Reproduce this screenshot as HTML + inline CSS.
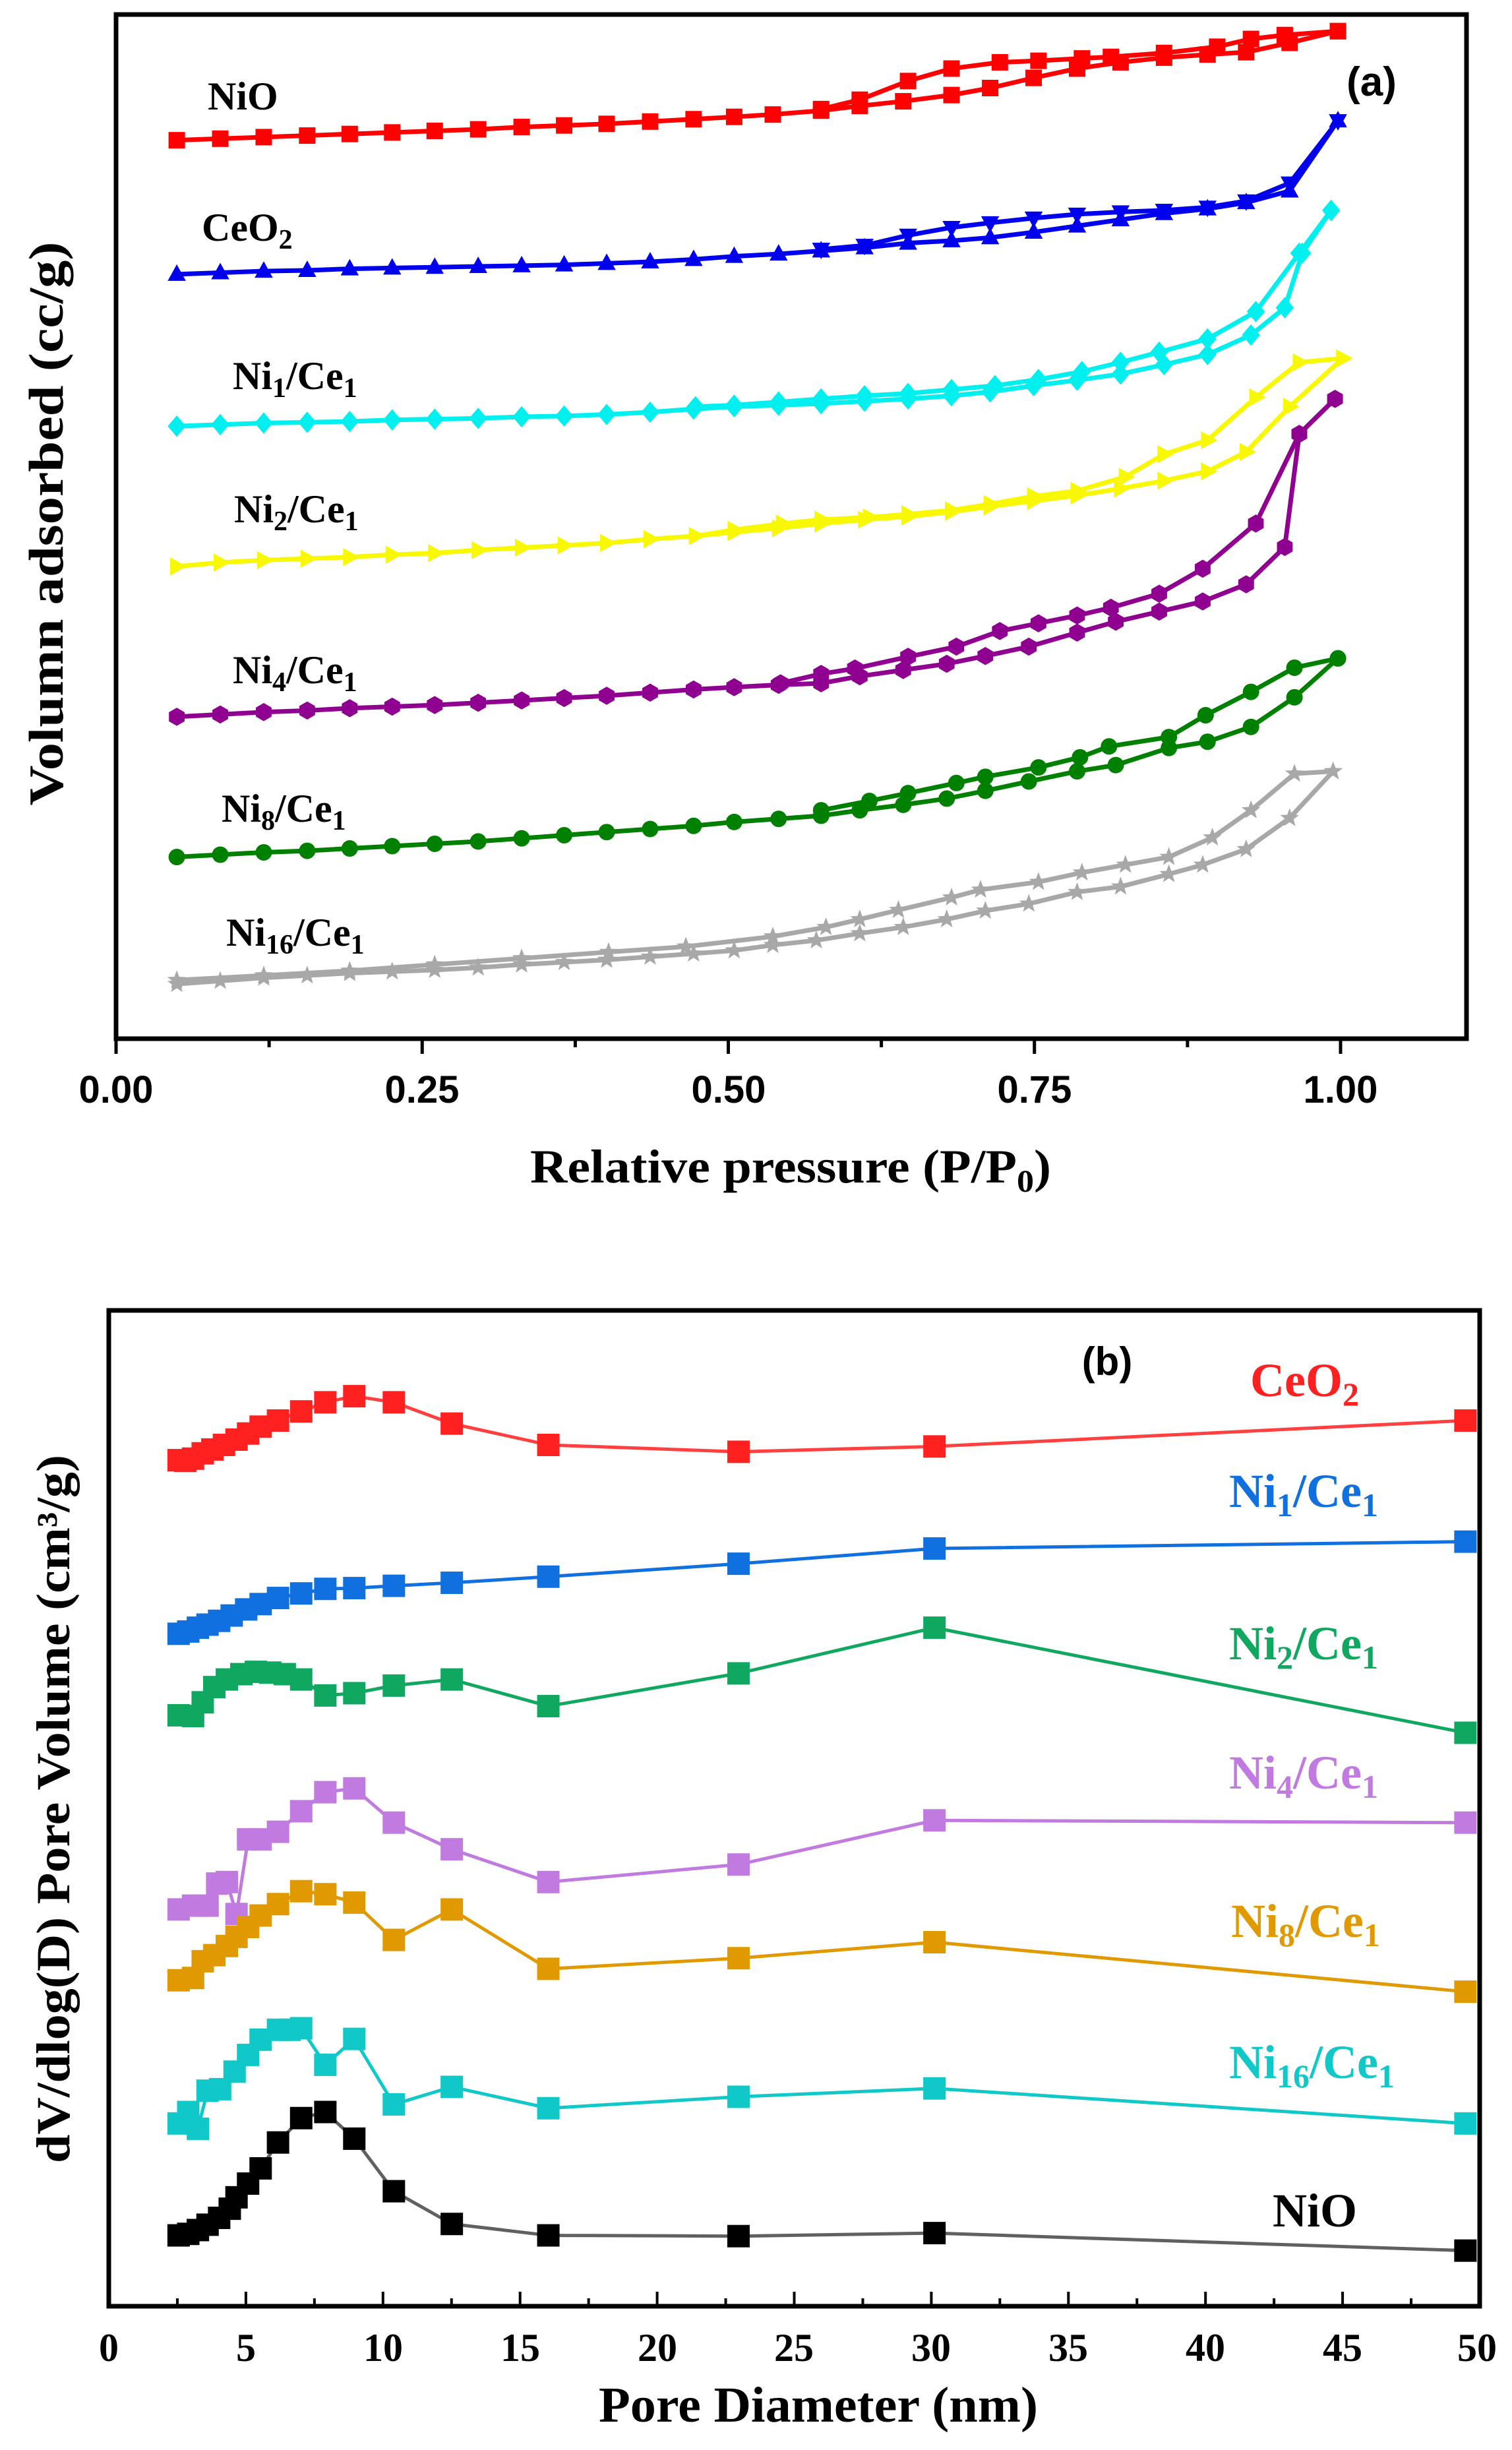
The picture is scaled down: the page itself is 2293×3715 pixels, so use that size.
<!DOCTYPE html>
<html><head><meta charset="utf-8"><style>
html,body{margin:0;padding:0;background:#fff;}
svg{display:block;}
.t{font-family:"Liberation Serif",serif;font-weight:bold;}
.a{font-family:"Liberation Sans",sans-serif;font-weight:bold;}
</style></head><body>
<svg id="s" width="2293" height="3715" viewBox="0 0 2293 3715" xmlns="http://www.w3.org/2000/svg">
<rect width="2293" height="3715" fill="#fff"/>
<g id="ga"></g>
<g id="gb"></g>
<rect x="176" y="22" width="2048" height="1553" fill="none" stroke="#000" stroke-width="7"/>
<g class="a" font-size="58" text-anchor="middle">
<text x="176" y="1672">0.00</text><text x="640" y="1672">0.25</text><text x="1105" y="1672">0.50</text><text x="1569" y="1672">0.75</text><text x="2033" y="1672">1.00</text>
</g>
<text class="a" x="2080" y="145" font-size="62" text-anchor="middle">(a)</text>
<text class="t" x="1199" y="1793" font-size="72" text-anchor="middle" textLength="790" lengthAdjust="spacingAndGlyphs">Relative pressure (P/P<tspan font-size="48" dy="14">0</tspan><tspan dy="-14">)</tspan></text>
<text class="t" transform="translate(95,794) rotate(-90)" font-size="74" text-anchor="middle" textLength="855" lengthAdjust="spacingAndGlyphs">Volumn adsorbed (cc/g)</text>
<g class="t" font-size="60">
<text x="315" y="166">NiO</text>
<text x="306" y="365">CeO<tspan font-size="42" dy="12">2</tspan></text>
<text x="353" y="590">Ni<tspan font-size="42" dy="12">1</tspan><tspan dy="-12">/Ce</tspan><tspan font-size="42" dy="12">1</tspan></text>
<text x="355" y="792">Ni<tspan font-size="42" dy="12">2</tspan><tspan dy="-12">/Ce</tspan><tspan font-size="42" dy="12">1</tspan></text>
<text x="353" y="1036">Ni<tspan font-size="42" dy="12">4</tspan><tspan dy="-12">/Ce</tspan><tspan font-size="42" dy="12">1</tspan></text>
<text x="336" y="1246">Ni<tspan font-size="42" dy="12">8</tspan><tspan dy="-12">/Ce</tspan><tspan font-size="42" dy="12">1</tspan></text>
<text x="343" y="1434">Ni<tspan font-size="42" dy="12">16</tspan><tspan dy="-12">/Ce</tspan><tspan font-size="42" dy="12">1</tspan></text>
</g>
<rect x="165" y="1987" width="2079" height="1510" fill="none" stroke="#000" stroke-width="7"/>
<g class="t" font-size="60" text-anchor="middle">
<text x="165" y="3580">0</text><text x="373" y="3580">5</text><text x="581" y="3580">10</text><text x="789" y="3580">15</text><text x="997" y="3580">20</text><text x="1204" y="3580">25</text><text x="1412" y="3580">30</text><text x="1620" y="3580">35</text><text x="1828" y="3580">40</text><text x="2036" y="3580">45</text><text x="2240" y="3580">50</text>
</g>
<text class="a" x="1679" y="2085" font-size="60" text-anchor="middle">(b)</text>
<text class="t" x="1241" y="3672" font-size="76" text-anchor="middle" textLength="666" lengthAdjust="spacingAndGlyphs">Pore Diameter (nm)</text>
<text class="t" transform="translate(105,2743) rotate(-90)" font-size="72" text-anchor="middle" textLength="1074" lengthAdjust="spacingAndGlyphs">dV/dlog(D) Pore Volume (cm³/g)</text>
<g class="t" font-size="72">
<text x="1896" y="2117" fill="#ff2020">CeO<tspan font-size="50" dy="14">2</tspan></text>
<text x="1864" y="2285" fill="#1070e0">Ni<tspan font-size="50" dy="14">1</tspan><tspan dy="-14">/Ce</tspan><tspan font-size="50" dy="14">1</tspan></text>
<text x="1864" y="2516" fill="#10a860">Ni<tspan font-size="50" dy="14">2</tspan><tspan dy="-14">/Ce</tspan><tspan font-size="50" dy="14">1</tspan></text>
<text x="1864" y="2712" fill="#c07ae0">Ni<tspan font-size="50" dy="14">4</tspan><tspan dy="-14">/Ce</tspan><tspan font-size="50" dy="14">1</tspan></text>
<text x="1867" y="2937" fill="#e09a00">Ni<tspan font-size="50" dy="14">8</tspan><tspan dy="-14">/Ce</tspan><tspan font-size="50" dy="14">1</tspan></text>
<text x="1864" y="3151" fill="#10c8c8">Ni<tspan font-size="50" dy="14">16</tspan><tspan dy="-14">/Ce</tspan><tspan font-size="50" dy="14">1</tspan></text>
<text x="1930" y="3376" fill="#000">NiO</text>
</g>
</svg>
<script>
var NS="http://www.w3.org/2000/svg";
function el(p,n,a){var e=document.createElementNS(NS,n);for(var k in a)e.setAttribute(k,a[k]);p.appendChild(e);return e;}
function marker(g,type,x,y,r,c){
 var p;
 if(type=="sq")return el(g,"rect",{x:x-r,y:y-r,width:2*r,height:2*r,fill:c});
 if(type=="ci")return el(g,"circle",{cx:x,cy:y,r:r,fill:c});
 if(type=="up")p=[[0,-1.2],[1.1,0.8],[-1.1,0.8]];
 if(type=="dn")p=[[0,1.2],[1.1,-0.8],[-1.1,-0.8]];
 if(type=="di")p=[[0,-1.3],[1.1,0],[0,1.3],[-1.1,0]];
 if(type=="rt")p=[[1.2,0],[-0.8,-1.1],[-0.8,1.1]];
 if(type=="pe"){p=[];for(var i=0;i<6;i++){var a=Math.PI/3*i+Math.PI/6;p.push([Math.cos(a)*1.1,Math.sin(a)*1.1]);}}
 if(type=="st"){p=[];for(var i=0;i<10;i++){var a=-Math.PI/2+Math.PI/5*i,rr=i%2?0.5:1.2;p.push([Math.cos(a)*rr,Math.sin(a)*rr]);}}
 return el(g,"polygon",{points:p.map(function(q){return (x+q[0]*r)+","+(y+q[1]*r)}).join(" "),fill:c});
}
function series(g,pts,fx,fy,oy,col,lc,lw,type,r){
 var P=pts.map(function(q){return [q[0]*fx,oy+q[1]*fy]});
 el(g,"polyline",{points:P.map(function(q){return q.join(",")}).join(" "),fill:"none",stroke:lc,"stroke-width":lw,"stroke-linejoin":"round"});
 P.forEach(function(q){marker(g,type,q[0],q[1],r,col);});
}
var ga=document.getElementById("ga"),fx=1.465,fy=1.1814;
var A=[
 ["#ff0000","sq","sq",[[183,180],[228,178],[273,176],[318,174],[362,172],[406,170],[450,168],[495,166],[540,163],[584,161],[628,159],[673,156],[718,153],[760,150],[800,147],[850,142],[890,136],[935,130],[985,122],[1025,113],[1070,100],[1115,88],[1160,80],[1205,74],[1250,70],[1290,67],[1335,55],[1385,40]],
  [[1385,40],[1330,45],[1295,50],[1260,60],[1205,68],[1150,73],[1120,75],[1075,78],[1035,80],[985,88],[940,104],[890,128],[850,140]]],
 ["#0000ee","up","dn",[[183,352],[228,350],[273,348],[318,347],[362,345],[406,344],[450,343],[495,342],[540,341],[584,340],[628,338],[673,336],[718,333],[760,329],[806,326],[850,322],[895,318],[940,312],[985,309],[1025,305],[1070,298],[1115,290],[1160,282],[1205,274],[1250,268],[1290,260],[1335,245],[1385,155]],
  [[1385,155],[1335,235],[1290,258],[1250,266],[1205,270],[1160,272],[1115,275],[1070,280],[1025,286],[985,292],[940,302],[895,315],[850,320]]],
 ["#00f0f0","di","di",[[183,547],[228,545],[273,543],[318,542],[362,541],[406,539],[450,538],[495,537],[540,535],[584,534],[628,532],[673,529],[718,525],[760,522],[806,520],[850,518],[895,515],[940,512],[985,508],[1025,503],[1070,495],[1115,488],[1160,480],[1205,468],[1250,455],[1295,430],[1330,395],[1348,325],[1378,270]],
  [[1378,270],[1345,325],[1300,400],[1250,435],[1200,452],[1160,465],[1120,477],[1075,487],[1030,495],[985,500],[940,505],[895,508],[850,512],[806,516],[760,520],[720,522]]],
 ["#f8f800","rt","rt",[[183,727],[228,722],[273,719],[318,717],[362,715],[406,712],[450,710],[495,706],[540,703],[584,700],[628,697],[673,692],[720,688],[760,683],[806,678],[850,672],[895,667],[940,663],[985,657],[1025,650],[1070,643],[1115,636],[1160,627],[1205,617],[1250,605],[1290,580],[1335,522],[1390,460]],
  [[1390,460],[1345,465],[1300,510],[1250,565],[1205,583],[1165,612],[1115,630],[1070,637],[1025,647],[985,655],[940,660],[900,664],[850,667],[810,672],[760,680],[720,688]]],
 ["#900090","pe","pe",[[183,920],[228,917],[273,914],[318,912],[362,909],[406,907],[450,905],[495,902],[540,899],[584,896],[628,893],[673,889],[718,885],[760,882],[806,879],[850,877],[890,868],[935,860],[980,852],[1020,842],[1065,830],[1115,812],[1155,798],[1200,785],[1245,772],[1290,750],[1330,702],[1345,557],[1382,512]],
  [[1382,512],[1345,557],[1300,672],[1245,730],[1200,762],[1150,780],[1115,790],[1075,800],[1035,810],[990,830],[940,843],[885,858],[850,865],[808,877]]],
 ["#008000","ci","ci",[[183,1100],[228,1097],[273,1094],[318,1092],[362,1089],[406,1086],[450,1083],[495,1080],[540,1076],[584,1072],[628,1068],[673,1064],[718,1060],[760,1055],[806,1051],[850,1047],[890,1040],[935,1033],[980,1025],[1020,1015],[1065,1003],[1115,990],[1155,982],[1210,960],[1250,952],[1295,933],[1340,895],[1385,845]],
  [[1385,845],[1340,857],[1295,888],[1248,918],[1210,946],[1148,958],[1118,972],[1075,985],[1020,997],[990,1005],[940,1018],[900,1028],[850,1040]]],
 ["#a8a8a8","st","st",[[183,1263],[228,1259],[273,1255],[318,1252],[362,1249],[406,1247],[450,1245],[495,1242],[540,1238],[584,1235],[628,1232],[673,1228],[718,1224],[760,1220],[800,1213],[845,1207],[890,1198],[935,1190],[980,1180],[1020,1169],[1065,1160],[1115,1145],[1160,1138],[1210,1122],[1245,1110],[1290,1090],[1335,1050],[1380,990]],
  [[1380,990],[1340,993],[1295,1040],[1255,1075],[1210,1100],[1165,1110],[1120,1120],[1075,1132],[1015,1142],[985,1152],[930,1168],[890,1180],[855,1190],[800,1202],[710,1215],[630,1222],[540,1230],[450,1238],[362,1246],[273,1252],[183,1258]]]
];
A.forEach(function(s){
 series(ga,s[4],fx,fy,0,s[0],s[0],7,s[2],12.5);
 series(ga,s[3],fx,fy,0,s[0],s[0],7,s[1],12.5);
});
for(var i=0;i<=8;i++){var x=176+i*(2033-176)/8;el(ga,"line",{x1:x,y1:1575,x2:x,y2:i%2?1588:1598,stroke:"#000","stroke-width":5});}
var gb=document.getElementById("gb"),bx=1.464,by=1.1547;
for(var i=0;i<=20;i++){var x=165+i*41.58*2.5;el(gb,"line",{x1:x,y1:3497,x2:x,y2:i%2?3485:3475,stroke:"#000","stroke-width":4});}
var B=[
 ["#ff2020","#ff4040",[[185,272],[192,273],[200,270],[210,263],[220,258],[232,252],[245,245],[257,237],[270,228],[288,220],[312,208],[337,196],[367,188],[408,196],[468,224],[568,252],[765,261],[968,254],[1518,220]]],
 ["#1070e0","#1070e0",[[185,500],[195,497],[205,492],[215,488],[227,483],[240,476],[255,468],[270,461],[288,453],[312,447],[337,441],[367,440],[408,437],[468,433],[568,425],[765,408],[968,388],[1518,379]]],
 ["#10a860","#10a860",[[185,607],[200,608],[210,590],[222,570],[235,560],[250,553],[265,550],[280,551],[295,553],[312,560],[337,581],[367,578],[408,568],[468,560],[568,595],[765,552],[968,492],[1518,630]]],
 ["#c07ae0","#c07ae0",[[185,862],[200,857],[215,857],[225,828],[235,826],[245,868],[257,770],[270,770],[288,760],[312,733],[337,708],[367,703],[408,748],[468,783],[568,826],[765,803],[968,745],[1518,748]]],
 ["#e09a00","#e09a00",[[185,955],[200,952],[210,930],[222,922],[235,910],[245,898],[257,885],[270,870],[288,855],[312,838],[337,842],[367,853],[408,902],[468,862],[568,940],[765,926],[968,905],[1518,970]]],
 ["#10c8c8","#10c8c8",[[185,1143],[195,1128],[205,1150],[215,1100],[228,1098],[243,1075],[257,1053],[270,1033],[288,1020],[300,1020],[312,1018],[337,1066],[367,1032],[408,1118],[468,1095],[568,1123],[765,1108],[968,1097],[1518,1143]]],
 ["#000000","#606060",[[185,1290],[195,1288],[205,1283],[215,1276],[227,1267],[238,1255],[245,1240],[257,1222],[270,1202],[288,1168],[312,1136],[337,1128],[367,1163],[408,1232],[468,1275],[568,1290],[765,1291],[968,1287],[1518,1310]]]
];
B.forEach(function(s){series(gb,s[2],bx,by,1900,s[0],s[1],5,"sq",17);});
</script>
</body></html>
